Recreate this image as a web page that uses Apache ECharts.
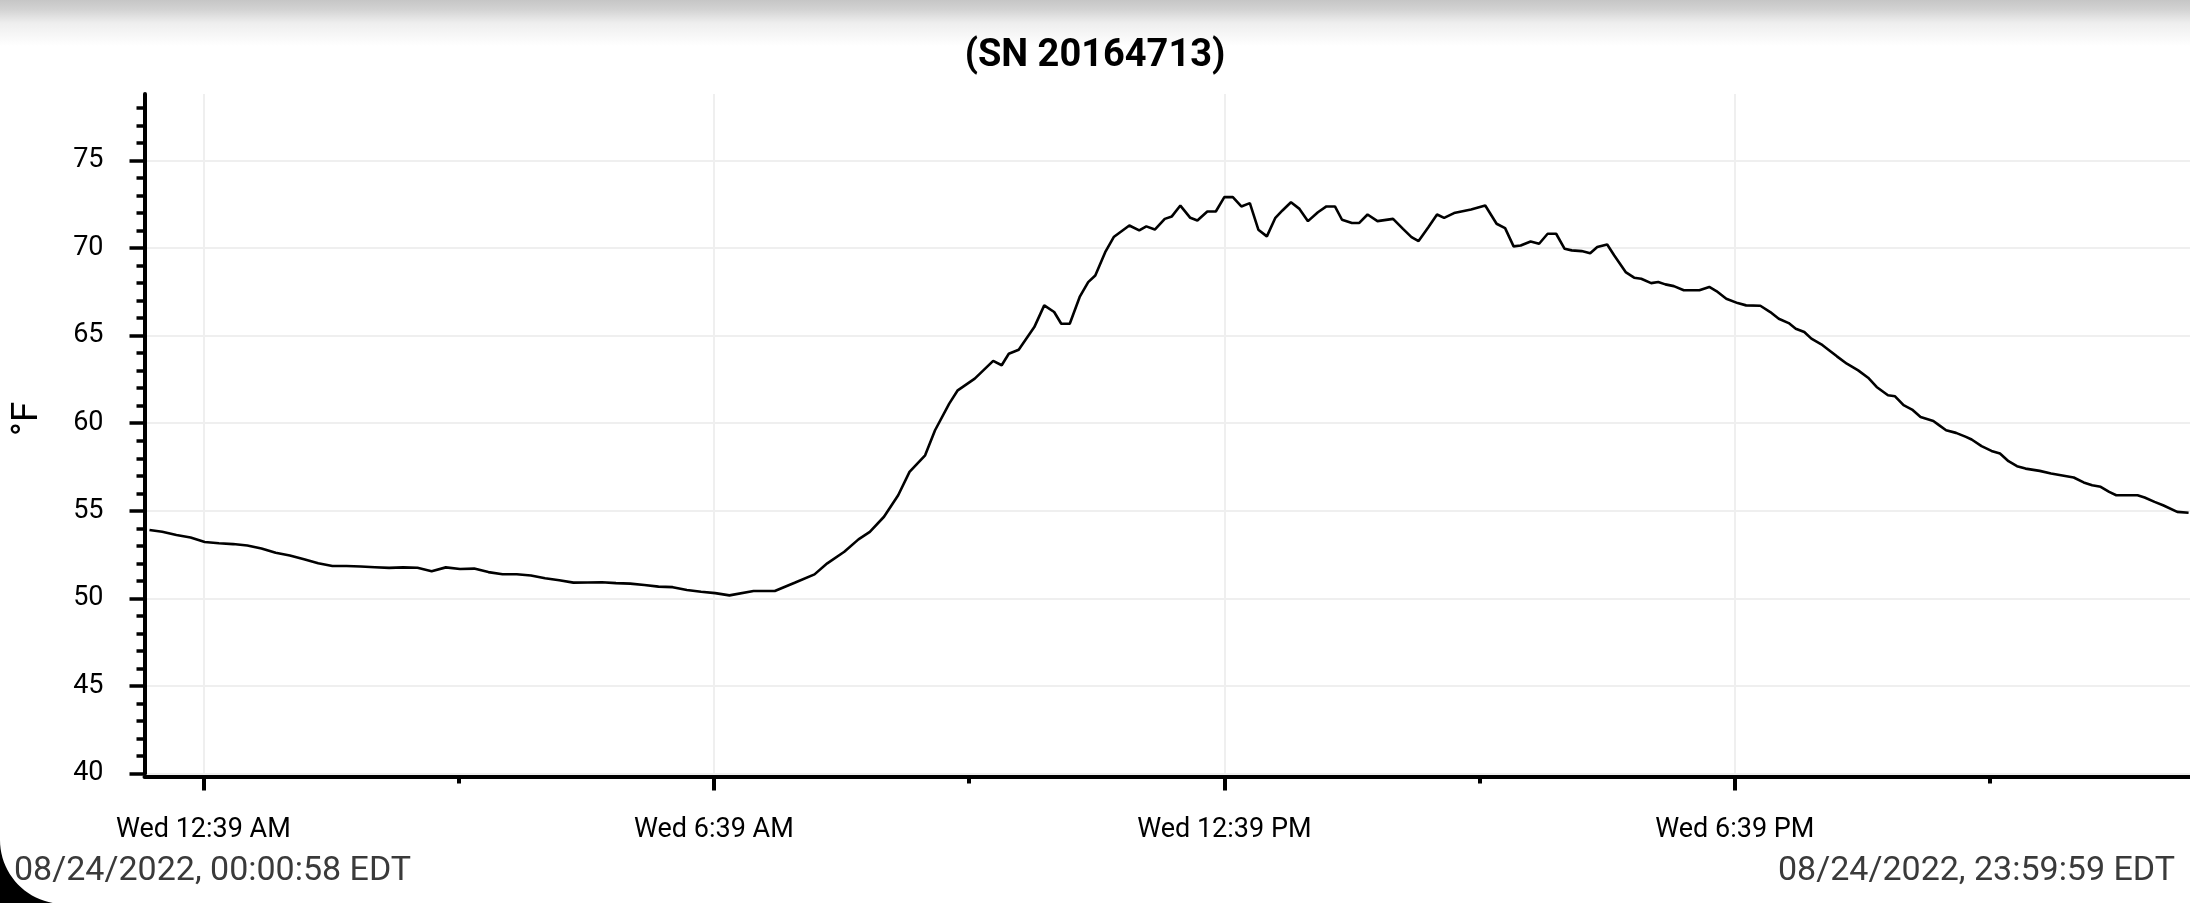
<!DOCTYPE html>
<html>
<head>
<meta charset="utf-8">
<title>SN 20164713</title>
<script src="https://cdn.jsdelivr.net/npm/echarts@6/dist/echarts.min.js"></script>
<style>
  html, body { margin: 0; padding: 0; background: #fff; }
  #chart { width: 2190px; height: 903px; }
</style>
</head>
<body>
<div id="chart"></div>
<script>
// logger readings: minutes after midnight (EDT) and temperature in °F
const sampleMinutes = [
  1, 10, 20, 30, 40, 50, 60, 70, 80, 90, 100, 110, 120, 130, 140, 150, 160, 170, 180, 190,
  200, 210, 220, 230, 240, 250, 260, 270, 280, 290, 300, 310, 320, 330, 340, 350, 360, 370, 380, 390,
  400, 410, 427, 442, 456, 470, 479, 491, 501, 509, 519, 529, 537, 548, 555, 565, 571, 583, 596, 602,
  607, 614, 625, 632, 639, 644, 650, 657, 663, 668, 675, 681, 692, 699, 704, 710, 717, 722, 728, 735,
  740, 747, 753, 759, 765, 771, 777, 783, 789, 795, 800, 806, 812, 818, 825, 831, 837, 842, 849, 854,
  860, 867, 878, 885, 891, 896, 903, 909, 914, 921, 933, 943, 951, 957, 963, 968, 975, 981, 987, 993,
  999, 1004, 1011, 1017, 1022, 1029, 1034, 1042, 1048, 1053, 1060, 1065, 1070, 1076, 1083, 1094, 1101, 1106, 1113, 1121,
  1127, 1137, 1144, 1150, 1157, 1162, 1168, 1173, 1180, 1185, 1191, 1198, 1206, 1213, 1219, 1227, 1232, 1238, 1244, 1250,
  1259, 1263, 1268, 1275, 1282, 1286, 1293, 1300, 1306, 1312, 1318, 1324, 1334, 1342, 1349, 1358, 1365, 1371, 1377, 1383,
  1388, 1403, 1408, 1415, 1421, 1431, 1439
]
const tempF = [
  53.9, 53.8, 53.62, 53.48, 53.22, 53.15, 53.1, 53.02, 52.85, 52.6, 52.45, 52.23, 52.0, 51.85, 51.85, 51.82, 51.78, 51.74, 51.77, 51.75,
  51.55, 51.77, 51.68, 51.7, 51.5, 51.38, 51.38, 51.31, 51.15, 51.03, 50.9, 50.91, 50.92, 50.87, 50.84, 50.76, 50.67, 50.64, 50.48, 50.38,
  50.3, 50.17, 50.42, 50.42, 50.89, 51.37, 52.0, 52.66, 53.37, 53.8, 54.66, 55.89, 57.22, 58.17, 59.6, 61.12, 61.88, 62.55, 63.56, 63.31,
  63.97, 64.2, 65.49, 66.73, 66.35, 65.68, 65.68, 67.21, 68.06, 68.44, 69.77, 70.63, 71.29, 71.01, 71.24, 71.06, 71.67, 71.81, 72.43, 71.73,
  71.58, 72.09, 72.09, 72.91, 72.91, 72.38, 72.57, 71.05, 70.67, 71.73, 72.15, 72.62, 72.24, 71.54, 72.05, 72.38, 72.38, 71.62, 71.43, 71.43,
  71.92, 71.54, 71.67, 71.1, 70.63, 70.4, 71.2, 71.92, 71.73, 72.0, 72.21, 72.43, 71.39, 71.14, 70.1, 70.15, 70.38, 70.25, 70.82, 70.82,
  69.96, 69.87, 69.83, 69.71, 70.06, 70.21, 69.58, 68.63, 68.31, 68.25, 68.0, 68.06, 67.93, 67.83, 67.59, 67.59, 67.78, 67.55, 67.11, 66.86,
  66.73, 66.71, 66.35, 65.97, 65.72, 65.4, 65.21, 64.83, 64.51, 64.2, 63.82, 63.4, 63.02, 62.6, 62.07, 61.6, 61.54, 61.03, 60.78, 60.36,
  60.13, 59.89, 59.6, 59.45, 59.22, 59.07, 58.69, 58.42, 58.27, 57.83, 57.55, 57.41, 57.28, 57.13, 57.03, 56.9, 56.62, 56.46, 56.37, 56.08,
  55.89, 55.89, 55.76, 55.51, 55.32, 54.94, 54.89
]

// x axis ticks (minutes after midnight)
const labelMinutes = [39, 399, 759, 1119]
const labelTexts = ['Wed 12:39 AM', 'Wed 6:39 AM', 'Wed 12:39 PM', 'Wed 6:39 PM']
const minorMinutes = [219, 579, 939, 1299]

// y axis ticks
const yMajorTicks = [40, 45, 50, 55, 60, 65, 70, 75]
const yMinorTicks = [41, 42, 43, 44, 46, 47, 48, 49, 51, 52, 53, 54, 56, 57, 58, 59,
  61, 62, 63, 64, 66, 67, 68, 69, 71, 72, 73, 74, 76, 77, 78]

const chartTitle = '(SN 20164713)'
const startStamp = '08/24/2022, 00:00:58 EDT'
const endStamp = '08/24/2022, 23:59:59 EDT'

const FONT = 'Roboto'
const X_MIN = -2.5
const X_MAX = 1440
const Y_MIN = 40
const Y_MAX = 78.8

const chart = echarts.init(document.getElementById('chart'), null, { renderer: 'canvas' })

// black rounded corner of the screenshot, bottom-left
const cornerPts = [[0, 903], [0, 840]]
for (let a = 180; a >= 100; a -= 4) {
  const r = a * Math.PI / 180
  cornerPts.push([64 + 64 * Math.cos(r), 840 + 64 * Math.sin(r)])
}
cornerPts.push([53, 903])

const option = {
  animation: false,
  backgroundColor: '#fff',
  title: [
    {
      text: chartTitle,
      left: 'center',
      top: 37,
      padding: 0,
      textStyle: { fontFamily: FONT, fontSize: 38, fontWeight: 'bold', color: '#000' }
    },
    {
      text: startStamp,
      left: 14,
      top: 854,
      padding: 0,
      textStyle: { fontFamily: FONT, fontSize: 34, fontWeight: 'normal', color: '#3a3a3a' }
    },
    {
      text: endStamp,
      right: 15,
      top: 854,
      padding: 0,
      textStyle: { fontFamily: FONT, fontSize: 34, fontWeight: 'normal', color: '#3a3a3a' }
    }
  ],
  graphic: [
    {
      type: 'rect',
      silent: true,
      z: 0,
      shape: { x: 0, y: 0, width: 2190, height: 46 },
      style: {
        fill: {
          type: 'linear', x: 0, y: 0, x2: 0, y2: 1,
          colorStops: [
            { offset: 0, color: '#c6c6c6' },
            { offset: 0.2, color: '#d2d2d2' },
            { offset: 0.5, color: '#eeeeee' },
            { offset: 1, color: '#ffffff' }
          ]
        }
      }
    },
    {
      type: 'polygon',
      silent: true,
      z: 100,
      shape: { points: cornerPts },
      style: { fill: '#000' }
    }
  ],
  grid: {
    left: 144.5,
    right: 0,
    top: 94,
    bottom: 129.5,
    containLabel: false,
    outerBoundsMode: 'none'
  },
  xAxis: [
    {
      type: 'value',
      position: 'bottom',
      min: X_MIN,
      max: X_MAX,
      offset: 3,
      axisLine: { show: true, onZero: false, lineStyle: { color: '#000', width: 4 } },
      axisTick: { show: true, length: 14, customValues: labelMinutes, lineStyle: { color: '#000', width: 4 } },
      axisLabel: {
        show: true,
        customValues: labelMinutes,
        margin: 40,
        fontFamily: FONT,
        fontSize: 27,
        color: '#000',
        formatter: v => {
          const i = labelMinutes.indexOf(Math.round(v))
          return i >= 0 ? labelTexts[i] : ''
        }
      },
      splitLine: { show: true, lineStyle: { color: '#efefef', width: 2 } }
    },
    {
      type: 'value',
      position: 'bottom',
      min: X_MIN,
      max: X_MAX,
      offset: 3,
      axisLine: { show: false, onZero: false },
      axisTick: { show: true, length: 7, customValues: minorMinutes, lineStyle: { color: '#000', width: 4 } },
      axisLabel: { show: false },
      splitLine: { show: false }
    }
  ],
  yAxis: [
    {
      type: 'value',
      position: 'left',
      min: Y_MIN,
      max: Y_MAX,
      name: '°F',
      nameLocation: 'middle',
      nameRotate: 90,
      nameGap: 98,
      nameTextStyle: { fontFamily: FONT, fontSize: 37, color: '#000', padding: [0, 0, 0, 30] },
      axisLine: { show: true, onZero: false, lineStyle: { color: '#000', width: 4 } },
      axisTick: { show: true, length: 15, customValues: yMajorTicks, lineStyle: { color: '#000', width: 3.5 } },
      axisLabel: {
        show: true,
        customValues: yMajorTicks,
        margin: 41,
        fontFamily: FONT,
        fontSize: 27,
        color: '#000'
      },
      splitLine: { show: true, lineStyle: { color: '#efefef', width: 2 } }
    },
    {
      type: 'value',
      position: 'left',
      min: Y_MIN,
      max: Y_MAX,
      axisLine: { show: false, onZero: false },
      axisTick: { show: true, length: 8, customValues: yMinorTicks, lineStyle: { color: '#000', width: 3.5 } },
      axisLabel: { show: false },
      splitLine: { show: false }
    }
  ],
  series: [
    {
      type: 'line',
      xAxisIndex: 0,
      yAxisIndex: 0,
      data: sampleMinutes.map((m, i) => [m, tempF[i]]),
      showSymbol: false,
      symbol: 'none',
      smooth: false,
      lineStyle: { color: '#000', width: 2.6 },
      z: 5
    }
  ]
}

chart.setOption(option)
</script>
</body>
</html>
